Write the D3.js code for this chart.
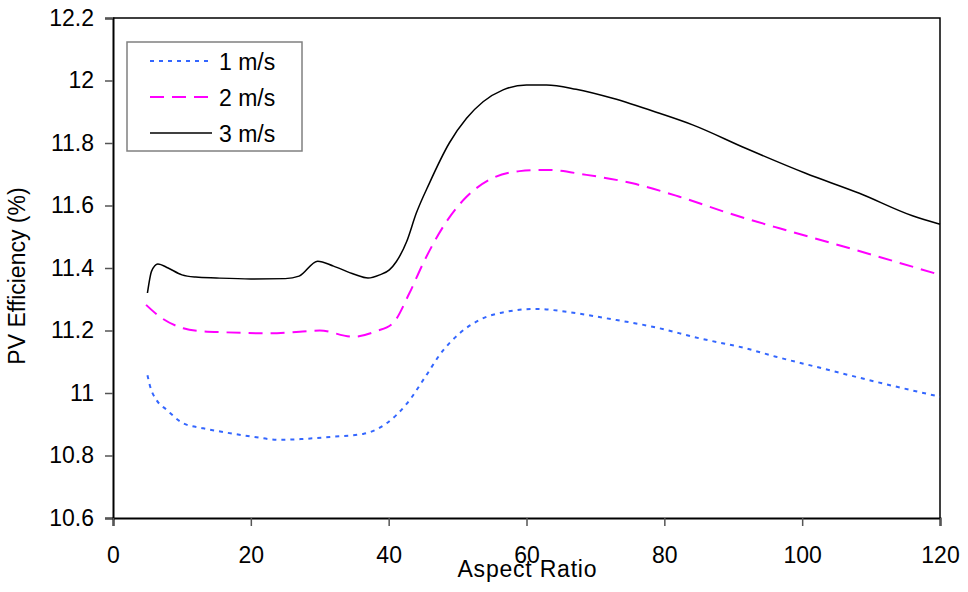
<!DOCTYPE html>
<html>
<head>
<meta charset="utf-8">
<script src="https://cdn.jsdelivr.net/npm/d3@7"></script>
<style>
  body { margin: 0; background: #fff; }
  text { font-family: "Liberation Sans", Arial, sans-serif; }
</style>
</head>
<body>
<script>
// aspect ratio values, one array per wind speed
let x1 = [5, 5.4, 6.3, 7.8, 10.2, 13.1, 16.5, 20.3, 24.2, 27.6, 31.9, 36.3, 39.7, 42.6, 45.5, 47.4, 50.3, 53.2, 57.1, 61.4, 65.8, 71.6, 78.3, 85.1, 91.8, 96.2, 102, 111.6, 120];
let v1 = [11.057, 11.02, 10.978, 10.946, 10.903, 10.887, 10.873, 10.86, 10.85, 10.853, 10.86, 10.869, 10.903, 10.965, 11.058, 11.122, 11.191, 11.234, 11.26, 11.269, 11.26, 11.239, 11.212, 11.175, 11.143, 11.116, 11.084, 11.031, 10.988];

let x2 = [4.8, 6.8, 10.2, 12.6, 16.5, 22.3, 27.1, 30, 34.8, 38.2, 40.6, 43, 45, 47.9, 51.3, 54.6, 59, 62.9, 68.7, 75.4, 82.2, 89.4, 96.7, 104.4, 120];
let v2 = [11.282, 11.244, 11.207, 11.198, 11.194, 11.191, 11.196, 11.2, 11.18, 11.198, 11.223, 11.319, 11.415, 11.532, 11.628, 11.682, 11.71, 11.714, 11.698, 11.671, 11.628, 11.575, 11.527, 11.479, 11.378];

let x3 = [5, 5.6, 6.5, 8, 10, 12, 15, 20, 25, 27, 29.7, 32, 35, 37, 38.7, 40.1, 41.1, 42.6, 44, 45.9, 48.8, 51.3, 53.7, 56.6, 60, 62.9, 67.2, 72.5, 79.3, 84.1, 91.8, 100.5, 108.3, 116, 120];
let v3 = [11.32, 11.39, 11.413, 11.4, 11.378, 11.371, 11.368, 11.365, 11.366, 11.374, 11.422, 11.406, 11.38, 11.368, 11.378, 11.394, 11.42, 11.484, 11.575, 11.671, 11.8, 11.879, 11.932, 11.97, 11.986, 11.986, 11.972, 11.943, 11.895, 11.858, 11.783, 11.703, 11.639, 11.567, 11.54];

let seriesNames = ["1 m/s", "2 m/s", "3 m/s"];
let xTicks = [0, 20, 40, 60, 80, 100, 120];
let yTicks = [10.6, 10.8, 11, 11.2, 11.4, 11.6, 11.8, 12, 12.2];

let series = [
  { name: seriesNames[0], xs: x1, ys: v1, color: "#3366ff", dash: "4,5", width: 2 },
  { name: seriesNames[1], xs: x2, ys: v2, color: "#ff00ff", dash: "14,8", width: 2 },
  { name: seriesNames[2], xs: x3, ys: v3, color: "#000000", dash: null, width: 1.5 }
];

let plotLeft = 113, plotRight = 940, plotTop = 18, plotBottom = 518;

let svg = d3.select("body")
  .append("svg")
  .attr("width", 968)
  .attr("height", 592);

let xScale = d3.scaleLinear().domain([0, 120]).range([plotLeft, plotRight]);
let yScale = d3.scaleLinear().domain([10.6, 12.2]).range([plotBottom, plotTop]);

// frame on top and right
svg.append("path")
  .attr("d", `M${plotLeft},${plotTop}H${plotRight}V${plotBottom}`)
  .attr("fill", "none")
  .attr("stroke", "#000")
  .attr("stroke-width", 1.5);

let yAxis = svg.append("g")
  .attr("transform", `translate(${plotLeft},0)`)
  .call(d3.axisLeft(yScale).tickValues(yTicks).tickSize(8).tickPadding(11)
    .tickFormat(d => d3.format("~g")(d)));

let xAxis = svg.append("g")
  .attr("transform", `translate(0,${plotBottom})`)
  .call(d3.axisBottom(xScale).tickValues(xTicks).tickSize(8).tickPadding(21));

[xAxis, yAxis].forEach(g => {
  g.select(".domain").attr("stroke", "#000").attr("stroke-width", 2);
  g.selectAll(".tick line").attr("stroke", "#555").attr("stroke-width", 1.5);
  g.selectAll(".tick text")
    .attr("fill", "#000")
    .style("font-size", "23px")
    .style("font-family", "'Liberation Sans', Arial, sans-serif");
});

let line = d3.line()
  .x(d => xScale(d[0]))
  .y(d => yScale(d[1]))
  .curve(d3.curveMonotoneX);

series.forEach(s => {
  let pts = s.xs.map((x, i) => [x, s.ys[i]]);
  svg.append("path")
    .datum(pts)
    .attr("d", line)
    .attr("fill", "none")
    .attr("stroke", s.color)
    .attr("stroke-width", s.width)
    .attr("stroke-dasharray", s.dash);
});

// legend
let legend = svg.append("g");
legend.append("rect")
  .attr("x", 127).attr("y", 42)
  .attr("width", 175).attr("height", 109)
  .attr("fill", "#fff")
  .attr("stroke", "#808080")
  .attr("stroke-width", 1.5);

series.forEach((s, i) => {
  let cy = 61 + i * 36;
  legend.append("line")
    .attr("x1", 150).attr("x2", 212)
    .attr("y1", cy).attr("y2", cy)
    .attr("stroke", s.color)
    .attr("stroke-width", s.width)
    .attr("stroke-dasharray", s.dash);
  legend.append("text")
    .attr("x", 219).attr("y", cy + 9)
    .style("font-size", "23px")
    .text(s.name);
});

svg.append("text")
  .attr("x", 527)
  .attr("y", 577)
  .attr("text-anchor", "middle")
  .style("font-size", "23px")
  .attr("textLength", 139)
  .text("Aspect Ratio");

svg.append("text")
  .attr("transform", "translate(25,276) rotate(-90)")
  .attr("text-anchor", "middle")
  .style("font-size", "23px")
  .text("PV Efficiency (%)");
</script>
</body>
</html>
